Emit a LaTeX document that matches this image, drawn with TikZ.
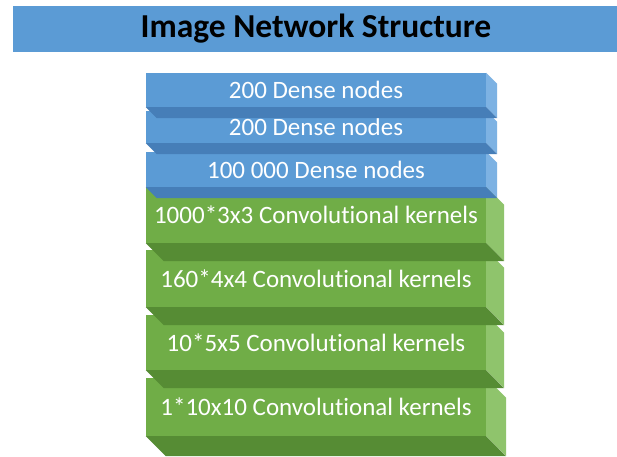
\documentclass[tikz,border=0pt]{standalone}
\usepackage{fontspec}
\setmainfont[Ligatures={NoCommon,NoContextual}]{Carlito}
\definecolor{bluefront}{RGB}{91,155,213}
\definecolor{blueside}{RGB}{125,178,227}
\definecolor{bluebase}{RGB}{70,126,184}
\definecolor{greenfront}{RGB}{112,173,71}
\definecolor{greenside}{RGB}{143,196,108}
\definecolor{greenbase}{RGB}{86,140,52}
\definecolor{titlebar}{RGB}{91,155,213}

% one extruded layer: name, top, bottom, depth, colour prefix, label
\newcommand{\layerslab}[6]{%
  \node[slabface, fill=#5front, minimum height={(#3)-(#2)}]
    (#1) at (316,{((#2)+(#3))/2}) {#6};
  \fill[#5side] (#1.north east) -- ++(#4,#4) -- ++(0,{(#3)-(#2)})
    -- (#1.south east) -- cycle;
  \fill[#5base] (#1.south west) -- (#1.south east) -- ++(#4,#4)
    -- ([shift={(#4,#4)}]#1.south west) -- cycle;
}

\begin{document}
\begin{tikzpicture}[x=1pt,y=-1pt,
  slabface/.style={rectangle, inner sep=0pt, minimum width=340pt,
    text=white, font=\fontsize{25}{28}\selectfont},
  titlestyle/.style={rectangle, inner sep=0pt, fill=titlebar,
    minimum width=606pt, minimum height=46pt,
    font=\fontsize{33.5}{36}\selectfont\bfseries}]
\useasboundingbox (0,0) rectangle (617,456);
\fill[white] (0,0) rectangle (617,456);

% heading bar
\node[titlestyle] (title) at (316,29) {Image Network Structure};

% layers, drawn from the bottom of the stack upwards
\layerslab{conv4}{378}{436}{20}{green}{1*10x10 Convolutional kernels}
\layerslab{conv3}{315}{370}{18}{green}{10*5x5 Convolutional kernels}
\layerslab{conv2}{250}{307}{18}{green}{160*4x4 Convolutional kernels}
\layerslab{conv1}{187}{243}{18}{green}{1000*3x3 Convolutional kernels}
\layerslab{dense3}{152}{187}{11}{blue}{100 000 Dense nodes}
\layerslab{dense2}{111}{143}{11}{blue}{200 Dense nodes}
\layerslab{dense1}{73}{107}{11}{blue}{200 Dense nodes}
\end{tikzpicture}
\end{document}
